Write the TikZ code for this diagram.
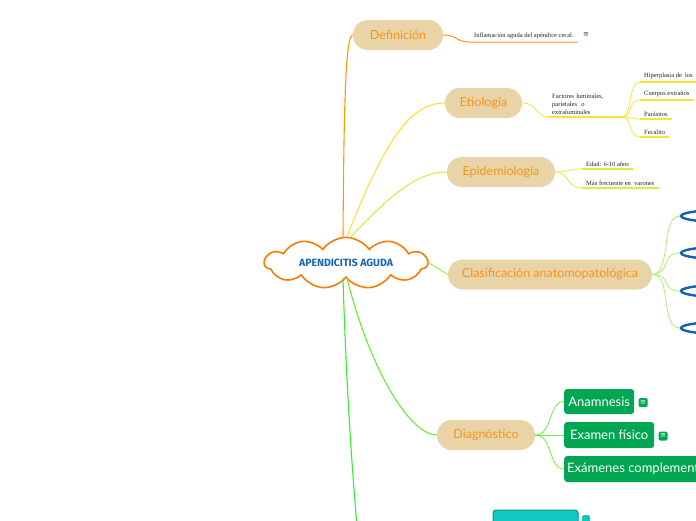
\documentclass[tikz,border=0pt]{standalone}
\usepackage{fontspec}
\setmainfont{Liberation Serif}
\newfontfamily\headfont{Lato}
\newfontfamily\rootfont{Fira Sans}
\newfontfamily\symfont{DejaVu Sans}
\usetikzlibrary{shapes.symbols,shapes.geometric}
\definecolor{beige}{HTML}{E8D4A6}
\definecolor{topicorange}{HTML}{F7941D}
\definecolor{cloudorange}{HTML}{FF7A00}
\definecolor{rootblue}{HTML}{1565B5}
\definecolor{ellblue}{HTML}{1560B0}
\definecolor{cdef}{HTML}{FF9A00}
\definecolor{ceti}{HTML}{FFE033}
\definecolor{cepi}{HTML}{D4F03A}
\definecolor{ccla}{HTML}{A8EE60}
\definecolor{cdia}{HTML}{66EE33}
\definecolor{cbot}{HTML}{33EE33}
\definecolor{dgreen}{HTML}{00A651}
\definecolor{tealfill}{HTML}{14C6C0}
\definecolor{tealdark}{HTML}{0E8F8B}
\begin{document}
\begin{tikzpicture}[x=1pt,y=-1pt,
  topic/.style={fill=beige, rounded corners=15pt, minimum height=30pt, text=topicorange,
    font=\headfont\fontsize{12.5}{14}\selectfont, inner sep=0pt},
  leaf/.style={font=\fontsize{6.5}{8}\selectfont, text=black!85, inner xsep=4pt, inner ysep=2.5pt, anchor=south west},
  gbox/.style={fill=dgreen, rounded corners=3pt, text=white, font=\headfont\fontsize{13}{15}\selectfont,
    minimum height=25pt, inner xsep=3pt, anchor=west},
  gicon/.style={fill=dgreen, rounded corners=1.5pt, minimum size=9pt, inner sep=0pt, text=white,
    font=\symfont\fontsize{7}{7}\selectfont},
  blueell/.style={ellipse, draw=ellblue, line width=2.4pt, fill=white, minimum width=100pt, minimum height=13pt},
  edge/.style={line width=1.1pt},
  sub/.style={line width=0.7pt}
]
\useasboundingbox (0,0) rectangle (696,520);
\clip (0,0) rectangle (696,520);
\fill[white] (0,0) rectangle (696,520);

% root
\node[cloud, cloud puffs=11, cloud puff arc=110, aspect=4, draw=cloudorange, line width=1.6pt,
  fill=white, minimum width=163pt, minimum height=42pt, inner sep=0pt,
  text=rootblue, font=\rootfont\bfseries\fontsize{10.5}{12}\selectfont] (root) at (346,263) {APENDICITIS AGUDA};

% topics
\node[topic, minimum width=90pt] (def) at (398,35) {Definición};
\node[topic, minimum width=77pt] (eti) at (483.5,103) {Etiología};
\node[topic, minimum width=108pt] (epi) at (501,172) {Epidemiología};
\node[topic, minimum width=204pt] (cla) at (550,274.5) {Clasificación anatomopatológica};
\node[topic, minimum width=98pt] (dia) at (486,435) {Diagnóstico};
\coordinate (bot) at (357,526);

% root edges
\draw[edge, cdef] ([xshift=-3pt]root.north) .. controls (344,90) and (346,36) .. (def.west);
\draw[edge, ceti] ([xshift=1pt]root.north) .. controls (385,140) and (410,103) .. (eti.west);
\draw[edge, cepi] ([xshift=5pt]root.north) .. controls (395,190) and (420,172) .. (epi.west);
\draw[edge, ccla] (root.east) -- (cla.west);
\draw[edge, cdia] ([xshift=1pt]root.south) .. controls (370,370) and (410,435) .. (dia.west);
\draw[edge, cbot] ([xshift=-3pt]root.south) .. controls (346,380) and (352,470) .. (bot);

% Definicion leaf
\node[leaf] (d1) at (470,42) {Inflamación aguda del apéndice cecal.};
\node[font=\symfont\fontsize{7}{7}\selectfont, text=black!75] (d1i) at (586,35) {≡};
\draw[line width=1pt, cdef] (def.east) .. controls (458,35) and (455,42) .. (d1.south west) -- (d1.south east);

% Etiologia leaves
\node[leaf, text width=66pt, align=left] (e1) at (548,117) {Factores luminales,\\ parietales \ o\\ extraluminales};
\node[leaf] (e2) at (640,82) {Hiperplasia de \ los};
\node[leaf] (e3) at (640,100) {Cuerpos extraños};
\node[leaf] (e4) at (640,119) {Parásitos};
\node[leaf] (e5) at (640,137) {Fecalito};
\draw[sub, ceti] (eti.east) .. controls (538,103) and (535,117) .. (e1.south west);
\draw[line width=1.8pt, ceti] (e1.south west) -- (e1.south east);
\foreach \n in {e2,e3,e4,e5}{
  \draw[sub, ceti] (e1.south east) .. controls (632,117) and (628,0|-\n.south west) .. (\n.south west);
  \draw[line width=1.8pt, ceti] (\n.south west) -- (\n.south east);
}

% Epidemiologia leaves
\node[leaf] (p1) at (582,169) {Edad: 6-10 años};
\node[leaf] (p2) at (582,188) {Más frecuente en \ varones};
\draw[sub, cepi] (epi.east) .. controls (570,172) and (566,169) .. (p1.south west);
\draw[sub, cepi] (epi.east) .. controls (570,172) and (566,188) .. (p2.south west);
\draw[line width=1.8pt, cepi] (p1.south west) -- (p1.south east);
\draw[line width=1.8pt, cepi] (p2.south west) -- (p2.south east);

% Clasificacion children
\node[blueell] (c1) at (731,216) {};
\node[blueell] (c2) at (731,253) {};
\node[blueell] (c3) at (731,291) {};
\node[blueell] (c4) at (731,328) {};
\foreach \n in {c1,c2,c3,c4}{
  \draw[sub, ccla] (cla.east) .. controls (672,274) and (660,0|-\n.west) .. (\n.west);
}

% Diagnostico children
\node[gbox, minimum width=70pt] (g1) at (564,401.5) {Anamnesis};
\node[gbox, minimum width=90pt, minimum height=26pt] (g2) at (564,435) {Examen físico};
\node[gbox, minimum height=26pt] (g3) at (564,469) {Exámenes complementarios};
\node[gicon] (g1i) at (643,402.5) {≡};
\node[gicon] (g2i) at (663,436) {≡};
\draw[sub, cdia] (dia.east) .. controls (553,435) and (548,401.5) .. (g1.west);
\draw[sub, cdia] (dia.east) -- (g2.west);
\draw[sub, cdia] (dia.east) .. controls (553,435) and (548,469) .. (g3.west);

% bottom teal box
\node[fill=tealfill, draw=tealdark, line width=1pt, rounded corners=3pt, minimum width=85pt,
  minimum height=26pt] (t1) at (535.5,523) {};
\node[fill=tealfill, rounded corners=1.5pt, minimum size=8pt, inner sep=0pt] (t1i) at (586,519) {};
\end{tikzpicture}
\end{document}
